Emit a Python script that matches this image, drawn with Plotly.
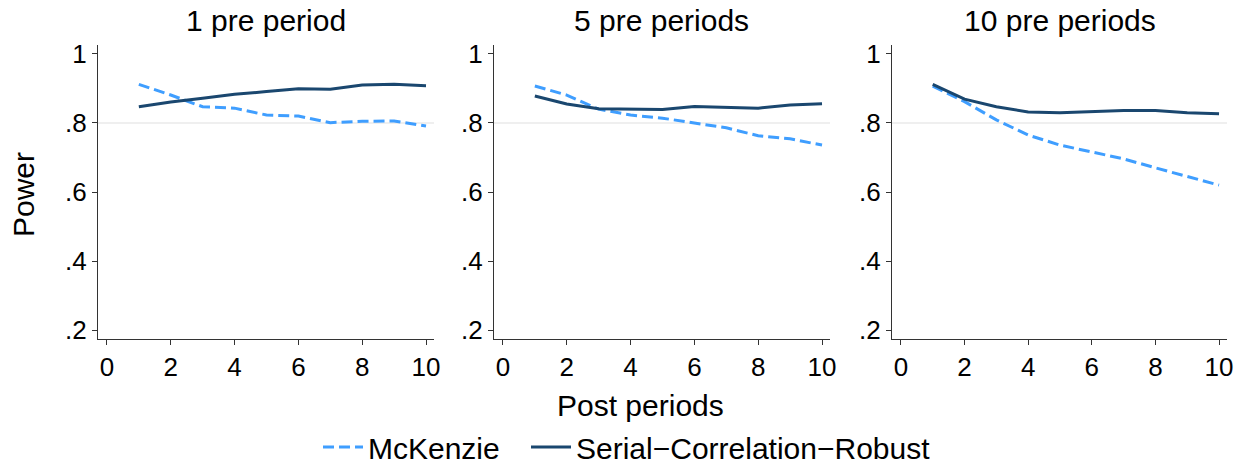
import plotly.graph_objects as go

post_periods = [1, 2, 3, 4, 5, 6, 7, 8, 9, 10]
panel_titles = ["1 pre period", "5 pre periods", "10 pre periods"]

mckenzie_1 = [0.912, 0.881, 0.847, 0.843, 0.823, 0.820, 0.801, 0.805, 0.806, 0.791]
scr_1 = [0.847, 0.861, 0.872, 0.883, 0.891, 0.899, 0.898, 0.910, 0.912, 0.908]

mckenzie_5 = [0.907, 0.881, 0.840, 0.823, 0.814, 0.801, 0.786, 0.763, 0.754, 0.736]
scr_5 = [0.878, 0.855, 0.841, 0.841, 0.839, 0.848, 0.846, 0.843, 0.852, 0.856]

mckenzie_10 = [0.907, 0.862, 0.809, 0.765, 0.736, 0.717, 0.696, 0.670, 0.644, 0.620]
scr_10 = [0.912, 0.869, 0.847, 0.832, 0.830, 0.833, 0.836, 0.836, 0.830, 0.827]

y_ticks = [0.2, 0.4, 0.6, 0.8, 1.0]
y_tick_labels = [".2", ".4", ".6", ".8", "1"]
x_ticks = [0, 2, 4, 6, 8, 10]

MCK_COLOR = "#3f9eff"
SCR_COLOR = "#1a476f"
FONT = "Liberation Sans, Arial, sans-serif"

fig = go.Figure()

mck_series = [mckenzie_1, mckenzie_5, mckenzie_10]
scr_series = [scr_1, scr_5, scr_10]
domains = [[98/1240, 434/1240], [494/1240, 830/1240], [892/1240, 1227/1240]]
ydom = [1 - 339/464, 1 - 45/464]

for i in range(3):
    xa = "x" if i == 0 else f"x{i+1}"
    ya = "y" if i == 0 else f"y{i+1}"
    fig.add_trace(go.Scatter(x=post_periods, y=mck_series[i], mode="lines",
                             line=dict(color=MCK_COLOR, width=3, dash="11px,5px"),
                             name="McKenzie", legend="legend", showlegend=(i == 0),
                             xaxis=xa, yaxis=ya))
    fig.add_trace(go.Scatter(x=post_periods, y=scr_series[i], mode="lines",
                             line=dict(color=SCR_COLOR, width=3),
                             name="Serial\u2212Correlation\u2212Robust", legend="legend2",
                             showlegend=(i == 0), xaxis=xa, yaxis=ya))
    axis_common = dict(showgrid=False, zeroline=False, showline=True, linecolor="#333333",
                       linewidth=1.3, ticks="outside", ticklen=5, tickcolor="#333333",
                       tickfont=dict(size=26, color="black", family=FONT))
    fig.layout[f"xaxis{'' if i == 0 else i+1}"] = dict(
        domain=domains[i], range=[-0.28, 10.25], tickvals=x_ticks,
        anchor=ya, **axis_common)
    fig.layout[f"yaxis{'' if i == 0 else i+1}"] = dict(
        domain=ydom, range=[0.174, 1.026], tickvals=y_ticks, ticktext=y_tick_labels,
        anchor=xa, **axis_common)
    fig.add_shape(type="line", xref=f"{xa} domain", yref=ya, x0=0, x1=1, y0=0.8, y1=0.8,
                  line=dict(color="#e0e0e0", width=1.2), layer="below")
    fig.add_annotation(text=panel_titles[i], xref="paper", yref="paper",
                       x=(domains[i][0] + domains[i][1]) / 2, y=1 - 21/464,
                       xanchor="center", yanchor="middle", showarrow=False,
                       font=dict(size=30, color="black", family=FONT))

fig.add_annotation(text="Post periods", xref="paper", yref="paper", x=640/1240, y=1 - 405/464,
                   xanchor="center", yanchor="middle", showarrow=False,
                   font=dict(size=30, color="black", family=FONT))
fig.add_annotation(text="Power", xref="paper", yref="paper", x=23/1240, y=1 - 195/464,
                   xanchor="center", yanchor="middle", showarrow=False, textangle=-90,
                   font=dict(size=30, color="black", family=FONT))

legend_common = dict(orientation="h", xanchor="left", y=1 - 447/464, yanchor="middle",
                     font=dict(size=30, color="black", family=FONT), itemwidth=40,
                     bgcolor="rgba(0,0,0,0)")
fig.update_layout(
    width=1240, height=464, margin=dict(l=0, r=0, t=0, b=0, autoexpand=False),
    paper_bgcolor="white", plot_bgcolor="white",
    font=dict(family=FONT, color="black"),
    legend=dict(x=318/1240, **legend_common),
    legend2=dict(x=526/1240, **legend_common),
)

fig.write_html("out.html")
